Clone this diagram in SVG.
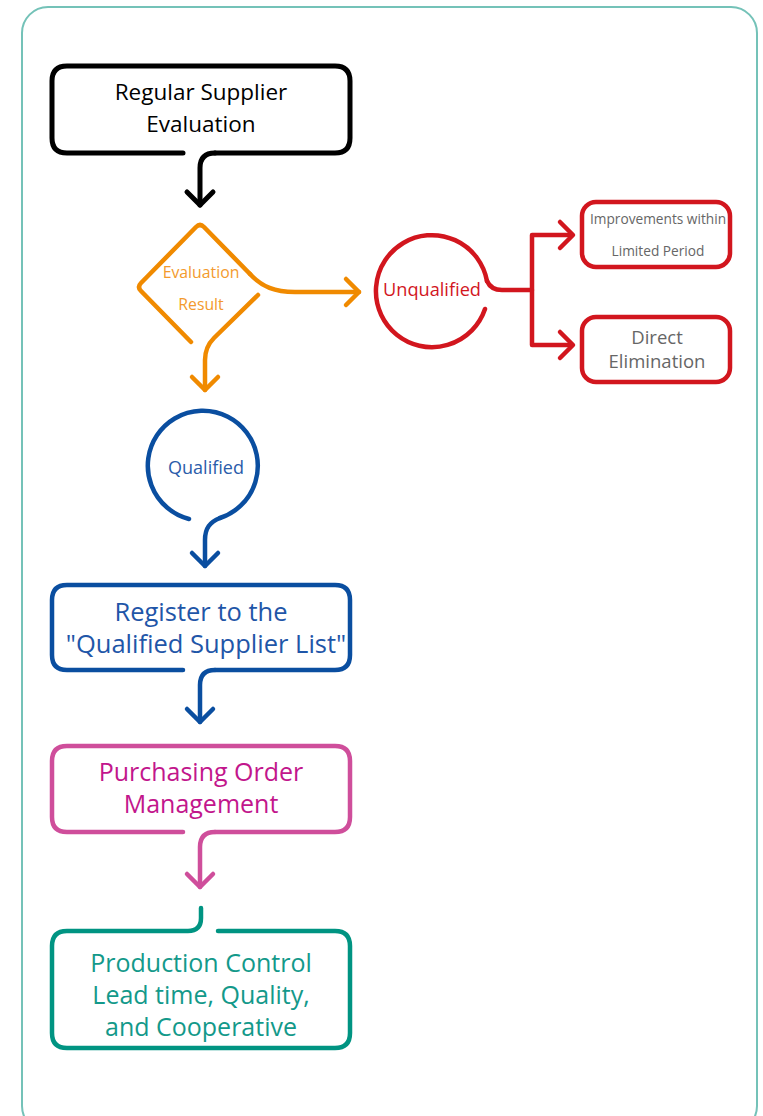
<svg xmlns="http://www.w3.org/2000/svg" width="763" height="1116" viewBox="0 0 763 1116">
<style>
.ln{fill:none;stroke-linecap:round;stroke-linejoin:round}
.bk{stroke:#000;stroke-width:5}
.or{stroke:#F08A00;stroke-width:4.5}
.rd{stroke:#D2161E;stroke-width:4.5}
.bl{stroke:#0A4EA0;stroke-width:4.5}
.mg{stroke:#CF4E9B;stroke-width:4.5}
.tl{stroke:#009482;stroke-width:4.5}
text{font-family:"Open Sans","Noto Sans",sans-serif;text-anchor:middle}
</style>
<rect x="22" y="7" width="735" height="1125" rx="26" fill="#fff" stroke="#74C2B8" stroke-width="2"/>
<g id="connectors">
<path class="ln or" d="M250,274 C262,287 275,292 295,292 H359"/>
<polyline class="ln or" points="346,279 359,292 346,305"/>
<path class="ln or" d="M258,295 L214,338 Q205,347 205,360 V390"/>
<polyline class="ln or" points="192,377 205,390 218,377"/>
<path class="ln rd" d="M487,281 Q491,290 502,290 H532"/>
<path class="ln rd" d="M572,235 H532 V345 H572"/>
<polyline class="ln rd" points="560,222 573,235 560,248"/>
<polyline class="ln rd" points="560,332 573,345 560,358"/>
<path class="ln bl" d="M220,518 C210,522 205,528 205,540 V566"/>
<polyline class="ln bl" points="192,553 205,566 218,553"/>
<path class="ln bk" d="M215,153 Q200,153 200,168 V205"/>
<polyline class="ln bk" points="187,192 200,205 213,192"/>
<path class="ln bl" d="M215,670 Q200,670 200,685 V722"/>
<polyline class="ln bl" points="187,709 200,722 213,709"/>
<path class="ln mg" d="M215,832 Q200,832 200,847 V887"/>
<polyline class="ln mg" points="187,874 200,887 213,874"/>
</g>
<g id="regular">
<path class="ln bk" d="M183,153 H67 Q52,153 52,138 V81 Q52,66 67,66 H335 Q350,66 350,81 V138 Q350,153 335,153 H215"/>
<text x="201" y="100" font-size="22.5" fill="#000">Regular Supplier</text>
<text x="201" y="132" font-size="22.5" fill="#000">Evaluation</text>
</g>
<g id="evaluation">
<path class="ln or" d="M191,342 L141,291 Q137,287 141,283 L196,227 Q200,223 204,227 L250,274"/>
<text x="201" y="278" font-size="15.8" fill="#F39A2D">Evaluation</text>
<text x="201" y="310" font-size="15.8" fill="#F39A2D">Result</text>
</g>
<g id="unqualified">
<path class="ln rd" d="M485,309 A56 56 0 1 1 487,281"/>
<text x="432" y="296" font-size="18.2" fill="#D2161E">Unqualified</text>
</g>
<g id="improvements">
<rect class="ln rd" x="582" y="202" width="148" height="65" rx="14"/>
<text x="658" y="224" font-size="13.7" fill="#666">Improvements within</text>
<text x="658" y="256" font-size="13.7" fill="#666">Limited Period</text>
</g>
<g id="elimination">
<rect class="ln rd" x="582" y="317" width="148" height="65" rx="14"/>
<text x="657" y="344" font-size="18.5" fill="#666">Direct</text>
<text x="657" y="368" font-size="18.5" fill="#666">Elimination</text>
</g>
<g id="qualified">
<path class="ln bl" d="M189,519 A55 55 0 1 1 220,518"/>
<text x="206" y="474" font-size="18" fill="#2A5CAA">Qualified</text>
</g>
<g id="register">
<path class="ln bl" d="M183,670 H67 Q52,670 52,655 V600 Q52,585 67,585 H335 Q350,585 350,600 V655 Q350,670 335,670 H215"/>
<text x="201" y="621" font-size="25.5" fill="#1F56A8">Register to the</text>
<text x="206" y="653" font-size="25.5" fill="#1F56A8">"Qualified Supplier List"</text>
</g>
<g id="purchasing">
<path class="ln mg" d="M183,832 H67 Q52,832 52,817 V761 Q52,746 67,746 H335 Q350,746 350,761 V817 Q350,832 335,832 H215"/>
<text x="201" y="781" font-size="25" fill="#C2168C">Purchasing Order</text>
<text x="201" y="813" font-size="25" fill="#C2168C">Management</text>
</g>
<g id="production">
<path class="ln tl" d="M218,931 H335 Q350,931 350,946 V1033 Q350,1048 335,1048 H67 Q52,1048 52,1033 V946 Q52,931 67,931 H188 Q201,931 201,918 V908"/>
<text x="201" y="972" font-size="25" fill="#13998A">Production Control</text>
<text x="201" y="1004" font-size="25" fill="#13998A">Lead time, Quality,</text>
<text x="201" y="1036" font-size="25" fill="#13998A">and Cooperative</text>
</g>
</svg>
